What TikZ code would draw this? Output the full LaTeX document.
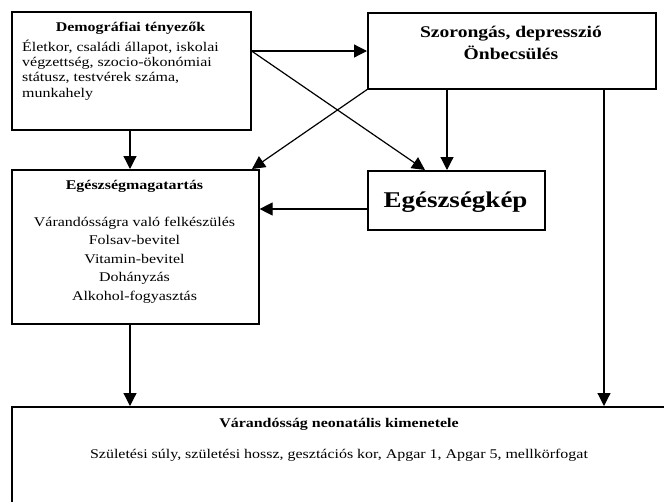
\documentclass[tikz,border=0pt]{standalone}
\usepackage{fontspec}
\setmainfont[FakeStretch=1.2]{Liberation Serif}
\usetikzlibrary{arrows.meta}
\begin{document}
\begin{tikzpicture}[x=1pt,y=-1pt,
  box/.style={draw,line width=1.6pt,inner sep=0pt,anchor=north west},
  txt/.style={inner sep=0pt},
  arr/.style={line width=1.2pt,-{Triangle[length=13pt,width=13pt]}}]
\useasboundingbox (0,0) rectangle (664,501);
\clip (0,0) rectangle (664,501);
% boxes
\node[box,minimum width=239pt,minimum height=118pt] (demo) at (11,11) {};
\node[box,minimum width=288pt,minimum height=76pt] (szor) at (367,12) {};
\node[box,minimum width=177pt,minimum height=59pt] (kep) at (367,170) {};
\node[box,minimum width=247pt,minimum height=154pt] (mag) at (11,169) {};
\node[box,minimum width=662pt,minimum height=130pt] (kim) at (11,406) {};
% texts
\node[txt,anchor=base,font=\fontsize{13.3}{15}\bfseries\selectfont] (demoT) at (130.5,31) {Demográfiai tényezők};
\node[txt,anchor=base west,align=left,font=\fontsize{13.3}{15.3}\selectfont] (demoB) at (22,97) {Életkor, családi állapot, iskolai\\végzettség, szocio-ökonómiai\\státusz, testvérek száma,\\munkahely};
\node[txt,anchor=base,align=center,font=\fontsize{16.3}{22}\bfseries\selectfont] (szorT) at (511,59) {Szorongás, depresszió\\Önbecsülés};
\node[txt,anchor=base,font=\fontsize{22.5}{26}\bfseries\selectfont] (kepT) at (455.5,207) {Egészségkép};
\node[txt,anchor=base,font=\fontsize{13.3}{15}\bfseries\selectfont] (magT) at (134.5,189) {Egészségmagatartás};
\node[txt,anchor=base,align=center,font=\fontsize{13.3}{18.5}\selectfont] (magB) at (134.5,300) {Várandósságra való felkészülés\\Folsav-bevitel\\Vitamin-bevitel\\Dohányzás\\Alkohol-fogyasztás};
\node[txt,anchor=base,font=\fontsize{13.3}{15}\bfseries\selectfont] (kimT) at (339,427) {Várandósság neonatális kimenetele};
\node[txt,anchor=base,font=\fontsize{13.3}{15}\selectfont] (kimB) at (339,458) {Születési súly, születési hossz, gesztációs kor, Apgar 1, Apgar 5, mellkörfogat};
% connectors
\coordinate (dA) at (demo.east |- 0,51);
\draw[arr] (dA) -- (szor.west |- dA);
\draw[arr] (dA) -- (425,170);
\draw[arr] (szor.south west) -- (252,169);
\draw[arr] (447,88) -- (447,170);
\draw[arr] (604,88) -- (604,406);
\draw[arr] (130,129) -- (130,169);
\draw[arr] (kep.west |- 0,209) -- (mag.east |- 0,209);
\draw[arr] (130,323) -- (130,406);
\end{tikzpicture}
\end{document}
